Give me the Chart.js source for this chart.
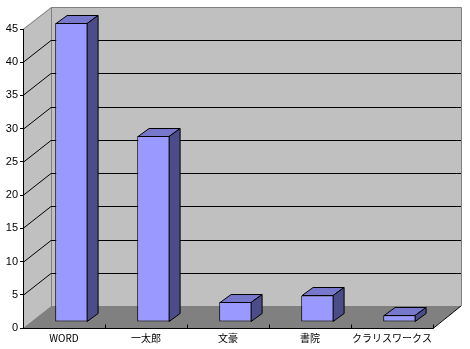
<!DOCTYPE html>
<html>
<head>
<meta charset="utf-8">
<script src="https://cdn.jsdelivr.net/npm/chart.js@4/dist/chart.umd.min.js"></script>
<style>
html,body{margin:0;padding:0;background:#fff;}
#wrap{width:470px;height:349px;position:relative;}
</style>
</head>
<body>
<div id="wrap"><canvas id="c" width="470" height="349"></canvas></div>
<script>
const categories = ['WORD', '一太郎', '文豪', '書院', 'クラリスワークス'];
const values = [45, 28, 3, 4, 1];
const yMin = 0, yMax = 45, yStep = 5;

const WALL = {dx: 28, dy: -22};
const BARPLANE = {dx: 7.6, dy: -6};
const BARDEPTH = {dx: 11, dy: -8};

const threeD = {
  id: 'threeD',
  beforeDraw(chart) {
    const ctx = chart.ctx;
    const xs = chart.scales.x, ys = chart.scales.y;
    const L = xs.left, R = xs.right;
    const T = ys.getPixelForValue(yMax), B = ys.getPixelForValue(yMin);
    ctx.save();
    ctx.lineWidth = 1;
    ctx.fillStyle = '#C0C0C0';
    ctx.strokeStyle = '#808080';
    ctx.fillRect(L + WALL.dx, T + WALL.dy, R - L, B - T);
    ctx.beginPath();
    ctx.moveTo(L, T); ctx.lineTo(L + WALL.dx, T + WALL.dy);
    ctx.lineTo(L + WALL.dx, B + WALL.dy); ctx.lineTo(L, B); ctx.closePath();
    ctx.fill();
    ctx.fillStyle = '#808080';
    ctx.beginPath();
    ctx.moveTo(L, B); ctx.lineTo(L + WALL.dx, B + WALL.dy);
    ctx.lineTo(R + WALL.dx, B + WALL.dy); ctx.lineTo(R, B); ctx.closePath();
    ctx.fill();
    ctx.beginPath();
    ctx.moveTo(L, T + 0.5); ctx.lineTo(L + WALL.dx + 0.5, T + WALL.dy + 0.5);
    ctx.lineTo(R + WALL.dx + 0.5, T + WALL.dy + 0.5);
    ctx.lineTo(R + WALL.dx + 0.5, B + WALL.dy);
    ctx.moveTo(L + WALL.dx + 0.5, T + WALL.dy + 0.5);
    ctx.lineTo(L + WALL.dx + 0.5, B + WALL.dy);
    ctx.stroke();
    ctx.strokeStyle = '#000';
    ctx.beginPath();
    for (let v = yMin + yStep; v < yMax; v += yStep) {
      const y = Math.round(ys.getPixelForValue(v)) + 0.5;
      ctx.moveTo(L, y);
      ctx.lineTo(L + WALL.dx, y + WALL.dy);
      ctx.lineTo(R + WALL.dx, y + WALL.dy);
    }
    ctx.stroke();
    const yb = Math.round(B) + 0.5;
    ctx.beginPath();
    ctx.moveTo(L, yb); ctx.lineTo(R, yb);
    ctx.lineTo(R + WALL.dx, B + WALL.dy);
    const n = categories.length;
    const w = (R - L) / n;
    for (let i = 1; i <= n; i++) {
      const x = Math.round(xs.getPixelForValue(i - 1) + w / 2) + 0.5;
      ctx.moveTo(x, yb); ctx.lineTo(x, yb - 4);
    }
    ctx.stroke();
    ctx.restore();
  },
  beforeDatasetsDraw(chart) {
    chart.ctx.save();
    chart.ctx.translate(BARPLANE.dx, BARPLANE.dy);
  },
  afterDatasetsDraw(chart) {
    const ctx = chart.ctx;
    const meta = chart.getDatasetMeta(0);
    ctx.lineWidth = 1;
    ctx.strokeStyle = '#000';
    meta.data.forEach(bar => {
      const p = bar.getProps(['x', 'y', 'base', 'width'], true);
      const l = Math.round(p.x - p.width / 2) + 0.5, r = Math.round(p.x + p.width / 2) - 0.5;
      const t = Math.round(p.y) + 0.5, b = Math.round(p.base) - 0.5;
      ctx.fillStyle = '#7777CC';
      ctx.beginPath();
      ctx.moveTo(l, t); ctx.lineTo(l + BARDEPTH.dx, t + BARDEPTH.dy);
      ctx.lineTo(r + BARDEPTH.dx, t + BARDEPTH.dy); ctx.lineTo(r, t); ctx.closePath();
      ctx.fill(); ctx.stroke();
      ctx.fillStyle = '#4C4C88';
      ctx.beginPath();
      ctx.moveTo(r, t); ctx.lineTo(r + BARDEPTH.dx, t + BARDEPTH.dy);
      ctx.lineTo(r + BARDEPTH.dx, b + BARDEPTH.dy); ctx.lineTo(r, b); ctx.closePath();
      ctx.fill(); ctx.stroke();
    });
    ctx.restore();
  }
};

new Chart(document.getElementById('c'), {
  type: 'bar',
  data: {
    labels: categories,
    datasets: [{
      data: values,
      backgroundColor: '#9999FF',
      borderColor: '#000',
      borderWidth: 1,
      borderSkipped: false,
      categoryPercentage: 1,
      barPercentage: 0.4,
      clip: false
    }]
  },
  options: {
    responsive: false,
    animation: false,
    events: [],
    layout: {padding: {top: 29, right: 37, left: 0, bottom: 0}},
    plugins: {legend: {display: false}, tooltip: {enabled: false}, title: {display: false}},
    scales: {
      x: {
        grid: {display: false, drawTicks: false, tickLength: 0},
        border: {display: false},
        ticks: {color: '#000', padding: 4, maxRotation: 0, autoSkip: false,
          font: {family: '"Noto Sans CJK JP", sans-serif', size: 10}},
        afterFit(s) { s.height = 21; }
      },
      y: {
        min: yMin, max: yMax,
        grid: {drawOnChartArea: false, drawTicks: true, tickLength: 3, color: '#000'},
        border: {display: true, color: '#000'},
        ticks: {stepSize: yStep, color: '#000', padding: 2,
          font: {family: '"Liberation Sans", Arial, sans-serif', size: 11}},
        afterFit(s) { s.width = 23; }
      }
    }
  },
  plugins: [threeD]
});
</script>
</body>
</html>
